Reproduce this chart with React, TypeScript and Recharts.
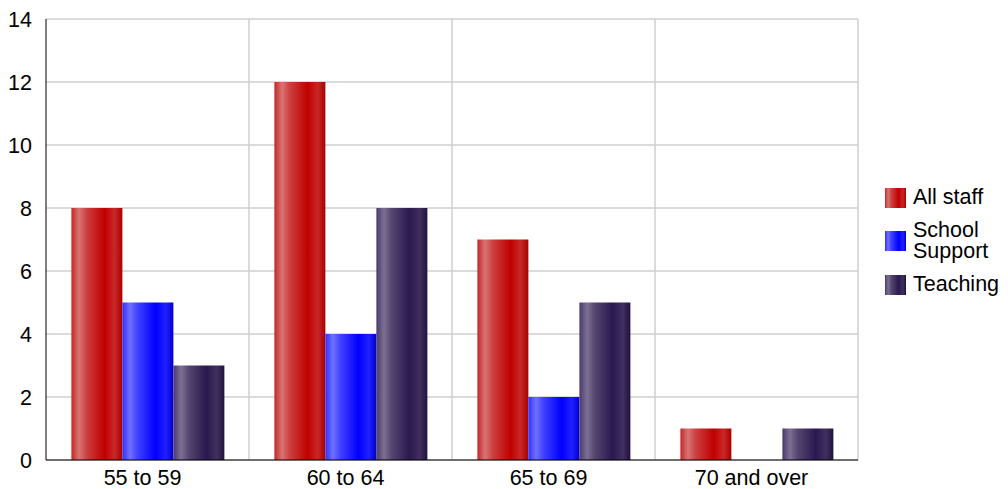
import { Bar, BarChart, CartesianGrid, Legend, XAxis, YAxis } from 'recharts';

const ageBands = ['55 to 59', '60 to 64', '65 to 69', '70 and over'];
const allStaff = [8, 12, 7, 1];
const schoolSupport = [5, 4, 2, 0];
const teaching = [3, 8, 5, 1];
const yTicks = [0, 2, 4, 6, 8, 10, 12, 14];

const chartData = ageBands.map((band, i) => ({
  band,
  allStaff: allStaff[i],
  schoolSupport: schoolSupport[i],
  teaching: teaching[i],
}));

const series = [
  { key: 'allStaff', name: 'All staff', grad: 'gradRed' },
  { key: 'schoolSupport', name: 'School Support', grad: 'gradBlue' },
  { key: 'teaching', name: 'Teaching', grad: 'gradPurple' },
];

// glossy left-to-right shading like the original bars
const gradients = [
  { id: 'gradRed', stops: ['#c42828', '#d97474', '#cc4040', '#c00000', '#c82828', '#a80000'] },
  { id: 'gradBlue', stops: ['#3030ff', '#7070ff', '#4040ff', '#0000ff', '#2020ff', '#0000d0'] },
  { id: 'gradPurple', stops: ['#4a3a6c', '#7c7094', '#55466f', '#2a1850', '#40305e', '#201240'] },
];
const stopOffsets = ['0%', '15%', '30%', '65%', '85%', '100%'];

const font = '"Liberation Sans", Arial, sans-serif';
const fontSize = 21.5;

function LegendContent() {
  return (
    <div style={{ fontFamily: font, fontSize, color: '#000' }}>
      {series.map((s) => (
        <div
          key={s.key}
          style={{ display: 'flex', alignItems: 'center', height: 43.5 }}
        >
          <svg width={21} height={20} style={{ marginRight: 7, flexShrink: 0 }}>
            <rect width={21} height={20} fill={`url(#${s.grad})`} />
          </svg>
          <span style={{ lineHeight: '21px', whiteSpace: 'nowrap' }}>
            {s.name === 'School Support' ? (
              <>
                School
                <br />
                Support
              </>
            ) : (
              s.name
            )}
          </span>
        </div>
      ))}
    </div>
  );
}

export default function App() {
  return (
    <div
      style={{
        position: 'absolute',
        left: 0,
        top: 0,
        width: 1008,
        height: 489,
        background: '#fff',
      }}
    >
      <BarChart
        width={1008}
        height={489}
        data={chartData}
        margin={{ top: 19, right: 150, left: 0, bottom: 0 }}
        barCategoryGap="12.5%"
        barGap={0}
      >
        <defs>
          {gradients.map((g) => (
            <linearGradient key={g.id} id={g.id} x1="0" y1="0" x2="1" y2="0">
              {g.stops.map((c, i) => (
                <stop key={i} offset={stopOffsets[i]} stopColor={c} />
              ))}
            </linearGradient>
          ))}
        </defs>
        <CartesianGrid
          stroke="#cfcfcf"
          strokeWidth={1.5}
          verticalCoordinatesGenerator={({ offset }: any) =>
            [1, 2, 3, 4].map((i) => offset.left + (offset.width * i) / 4)
          }
        />
        <XAxis
          dataKey="band"
          height={29}
          tickLine={false}
          tickMargin={4}
          axisLine={{ stroke: '#000' }}
          tick={{ fontSize, fill: '#000', fontFamily: font, dx: -5 }}
        />
        <YAxis
          width={46}
          domain={[0, 14]}
          ticks={yTicks}
          tickLine={false}
          tickMargin={8}
          axisLine={{ stroke: '#000' }}
          tick={{ fontSize, fill: '#000', fontFamily: font }}
        />
        <Legend
          layout="vertical"
          align="center"
          verticalAlign="middle"
          content={<LegendContent />}
          wrapperStyle={{ left: 885, top: 176, width: 123 }}
        />
        {series.map((s) => (
          <Bar
            key={s.key}
            dataKey={s.key}
            name={s.name}
            fill={`url(#${s.grad})`}
            isAnimationActive={false}
          />
        ))}
      </BarChart>
    </div>
  );
}
